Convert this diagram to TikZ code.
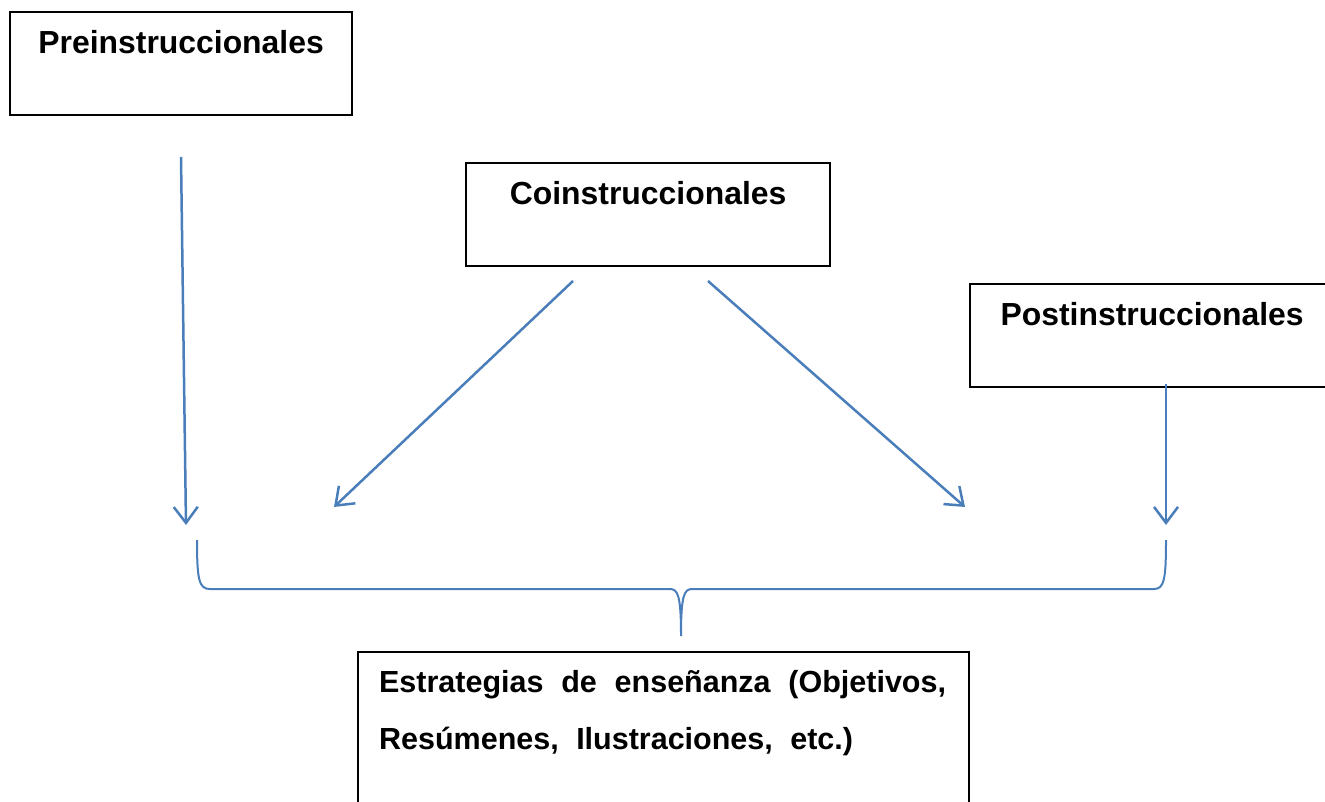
\documentclass[tikz,border=0pt]{standalone}
\usepackage{fontspec}
\setmainfont{Liberation Sans}
\usetikzlibrary{arrows.meta}
\definecolor{linkblue}{HTML}{4A7EBB}
\tikzset{
  boxnode/.style={draw=black, line width=2.2pt, inner sep=0pt, font=\fontsize{31.9}{38}\selectfont\bfseries},
  linkarrow/.style={draw=linkblue, line width=2.5pt, -{Straight Barb[length=16pt,width=24pt,line width=2.5pt]}},
  bracepath/.style={draw=linkblue, line width=2pt}
}
\begin{document}
\begin{tikzpicture}[x=1pt,y=-1pt]
\useasboundingbox (0,0) rectangle (1325,802);
\clip (0,0) rectangle (1325,802);
\node[boxnode, anchor=north west, minimum width=342pt, text height=41pt, text depth=62pt] (pre) at (9,11) {Preinstruccionales};
\node[boxnode, anchor=north west, minimum width=364pt, text height=41pt, text depth=62pt] (co) at (465,162) {Coinstruccionales};
\node[boxnode, anchor=north west, minimum width=364pt, text height=41pt, text depth=62pt] (post) at (969,283) {Postinstruccionales};
\node[boxnode, anchor=north west, minimum width=611pt, inner xsep=21pt, text width=569pt, align=left, text height=40pt, text depth=220pt, font=\fontsize{30.5}{57}\selectfont\bfseries] (est) at (357,651) {\makebox[567pt][l]{Estrategias\hfill de\hfill enseñanza\hfill (Objetivos,}\\\makebox[474pt][l]{Resúmenes,\hfill Ilustraciones,\hfill etc.)}};
\coordinate (preS) at (181,157);
\coordinate (preE) at (186,525);
\coordinate (coLS) at (573,281);
\coordinate (coLE) at (334,507);
\coordinate (coRS) at (708,281);
\coordinate (coRE) at (965,507);
\coordinate (postS) at (1166,384);
\coordinate (postE) at (1166,525);
\draw[linkarrow] (preS) -- (preE);
\draw[linkarrow] (coLS) -- (coLE);
\draw[linkarrow] (coRS) -- (coRE);
\draw[linkarrow] (postS) -- (postE);
\coordinate (bl) at (197,540);
\coordinate (bm) at (681,636);
\coordinate (br) at (1166,540);
\draw[bracepath] (bl) .. controls (197,580) and (199,589) .. (210,589) -- (670,589)
  .. controls (678,589) and (681,596) .. (bm)
  .. controls (681,596) and (684,589) .. (692,589) -- (1154,589)
  .. controls (1164,589) and (1166,580) .. (br);
\end{tikzpicture}
\end{document}
